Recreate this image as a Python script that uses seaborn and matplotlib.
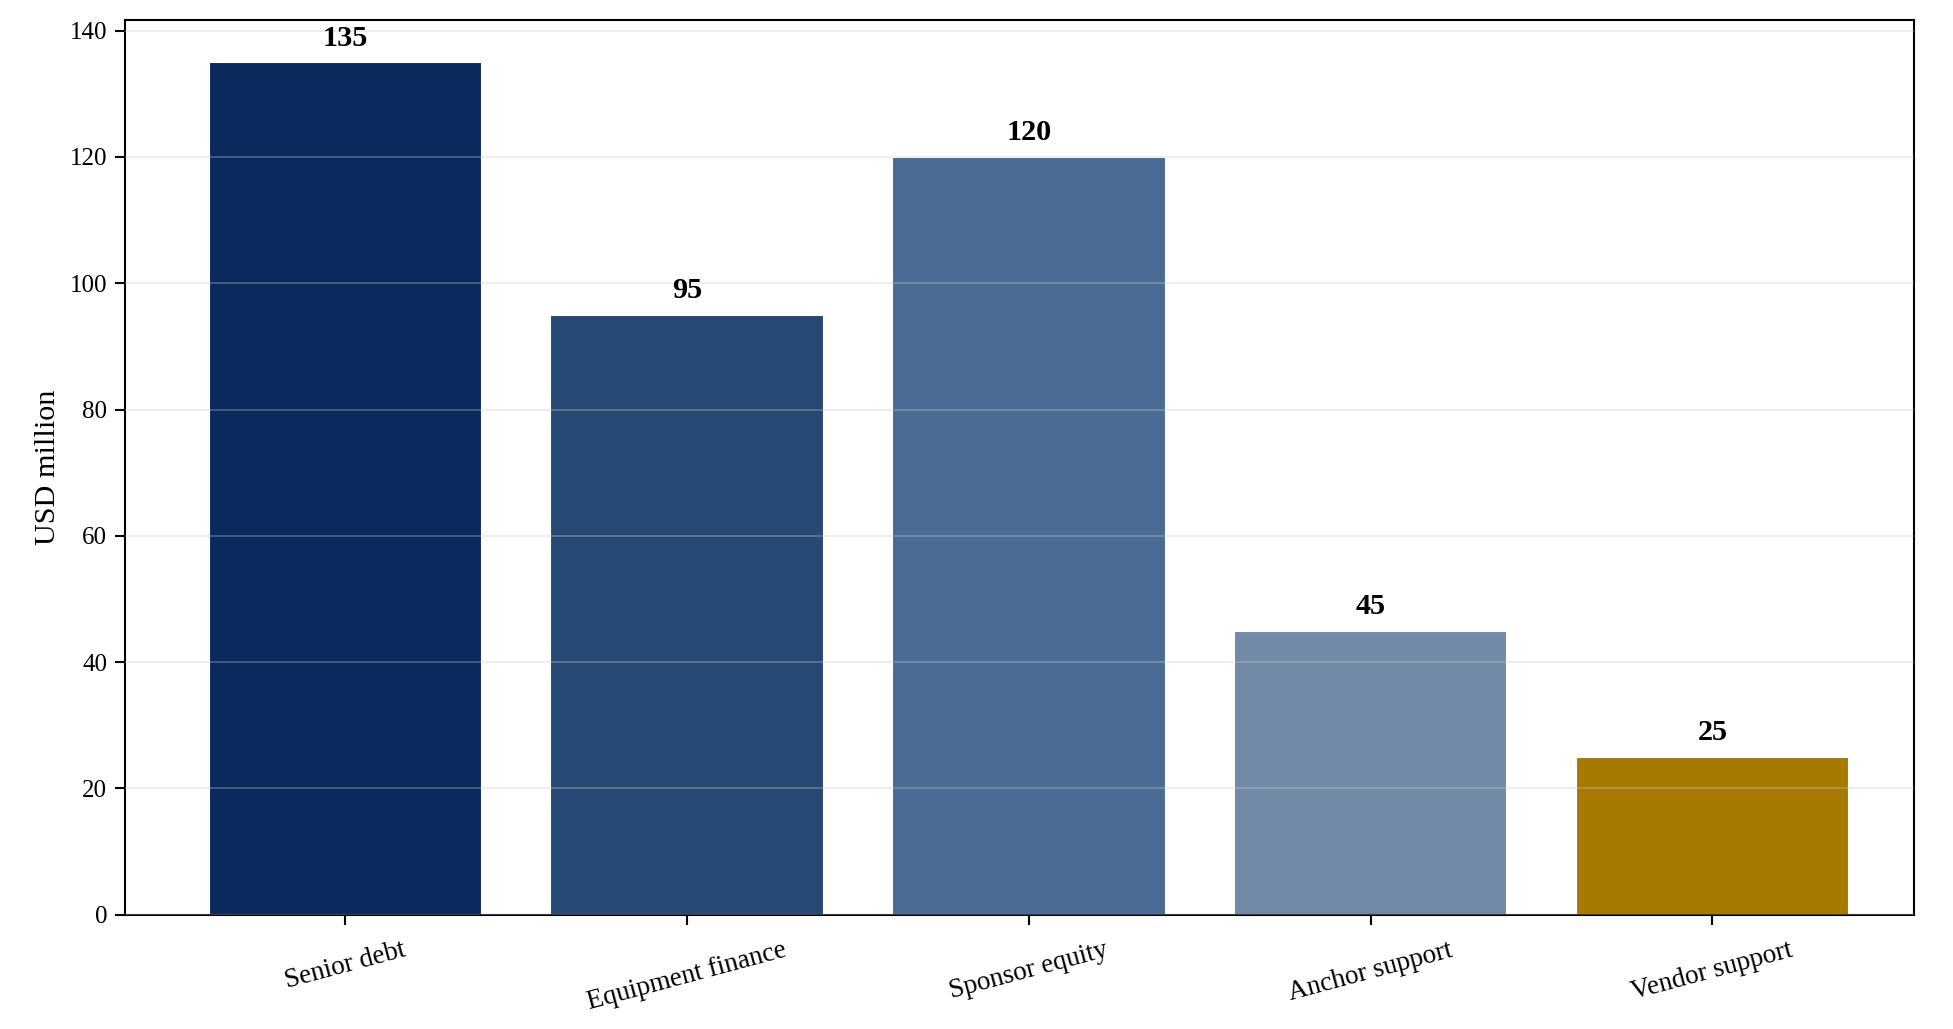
import pandas as pd
import matplotlib
matplotlib.use("Agg")
import matplotlib.pyplot as plt
import seaborn as sns

# Chart data
categories = ["Senior debt", "Equipment finance", "Sponsor equity", "Anchor support", "Vendor support"]
values = [135, 95, 120, 45, 25]
bar_colors = ["#0a295d", "#264a73", "#4a6b93", "#7389a8", "#a67a02"]

sns.set_style("white")
plt.rcParams["font.family"] = ["Liberation Serif", "DejaVu Serif"]
plt.rcParams["text.color"] = "black"
plt.rcParams["axes.labelcolor"] = "black"


def draw_chart():
    df = pd.DataFrame({"category": categories, "value": values})

    fig, ax = plt.subplots(figsize=(13.02, 6.86), dpi=150)
    sns.barplot(data=df, x="category", y="value", hue="category",
                palette=bar_colors, width=0.8, saturation=1,
                legend=False, ax=ax)

    # value labels above bars
    for container in ax.containers:
        ax.bar_label(container, fmt="%d", padding=5, color="black",
                     fontsize=14.5, fontweight="bold")

    ax.set_xlim(-0.645, 4.59)
    ax.set_ylim(0, 141.75)
    ax.set_xlabel("")
    ax.set_ylabel("USD million", fontsize=14.5, color="black")

    ax.grid(axis="y", color="#c8c8c8", alpha=0.3, linewidth=1.0)
    ax.set_axisbelow(False)

    for side in ["top", "right", "left", "bottom"]:
        ax.spines[side].set_visible(True)
        ax.spines[side].set_color("black")
        ax.spines[side].set_linewidth(1.0)

    ax.tick_params(axis="both", which="both", direction="out",
                   bottom=True, left=True, top=False, right=False,
                   length=5, width=1, colors="black", labelsize=12)
    ax.tick_params(axis="x", labelsize=13, pad=6)
    plt.setp(ax.get_xticklabels(), rotation=15, ha="center")

    fig.subplots_adjust(left=0.064, right=0.980, top=0.981, bottom=0.111)
    fig.savefig("out.png", dpi=150)


if __name__ == "__main__":
    draw_chart()
